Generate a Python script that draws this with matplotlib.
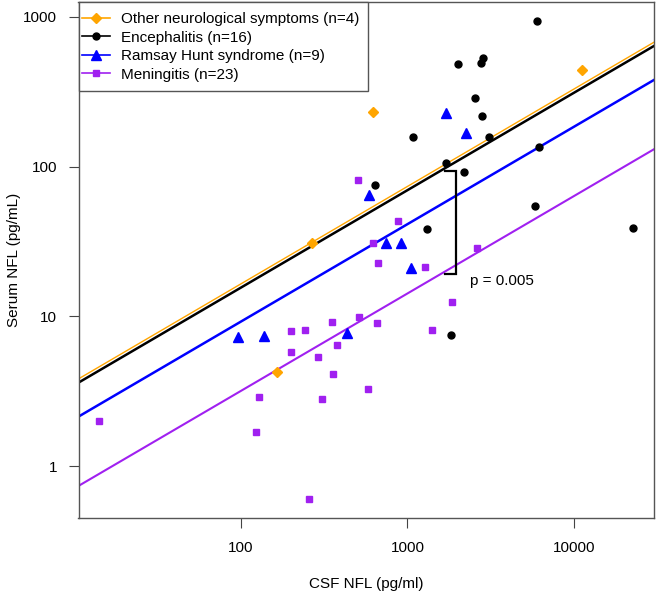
import numpy as np
import matplotlib
matplotlib.use("Agg")
import matplotlib.pyplot as plt
from matplotlib.patches import Rectangle

plt.rcParams['font.family'] = ['Liberation Sans', 'DejaVu Sans']

# ---- data ----
other_x = [617, 11120, 269, 165]
other_y = [233, 441, 30.8, 4.27]

enc_x = [1072, 1714, 640, 5998, 2024, 2845, 2767, 2547, 2793, 3076, 6170, 2197, 1306, 1820, 5835, 22500]
enc_y = [157, 105, 76, 940, 483, 535, 491, 289, 218, 158, 135.6, 92.7, 38.2, 7.55, 54.3, 38.7]

rhs_x = [589, 1714, 2240, 741, 912, 1047, 137, 436, 96]
rhs_y = [64.7, 230, 167, 31, 31, 20.9, 7.36, 7.7, 7.24]

men_x = [508, 883, 620, 661, 1276, 1862, 511, 652, 1400, 200, 243, 350, 377, 200, 291, 355,
         578, 129, 306, 124, 256, 14.1, 2620]
men_y = [81, 43.4, 30.8, 22.8, 21.5, 12.5, 9.95, 9.0, 8.1, 8.04, 8.15, 9.14, 6.41, 5.8, 5.33, 4.10,
         3.29, 2.91, 2.81, 1.70, 0.60, 2.0, 28.5]

labels = ["Other neurological symptoms (n=4)", "Encephalitis (n=16)",
          "Ramsay Hunt syndrome (n=9)", "Meningitis (n=23)"]

# common-slope regression lines on log10 scale: log10(y) = a + b*log10(x)
common_slope = 0.651
intercepts = [-0.085, -0.110, -0.337, -0.800]

# bracket annotation (data units)
bracket_x_right = 1950
bracket_x_left = 1675
bracket_top = 93.6
bracket_bottom = 19.2
p_text = "p = 0.005"
p_pos = (2366, 17.2)

xticks = [100, 1000, 10000]
yticks = [1, 10, 100, 1000]
xlim = (10 ** 1.025, 10 ** 4.48)
ylim = (10 ** -0.347, 10 ** 3.1)

colors = ["#FFA500", "#000000", "#0000FF", "#A020F0"]
markers = ["D", "o", "^", "s"]
msizes = [5.0, 5.0, 6.5, 4.5]
lws = [1.0, 1.8, 1.8, 1.5]

fig = plt.figure(figsize=(6.57, 6.0), dpi=100)
ax = fig.add_axes([78.5 / 657, 1 - 518 / 600, (654 - 78.5) / 657, (518 - 2) / 600])
ax.set_xscale('log')
ax.set_yscale('log')
ax.set_xlim(*xlim)
ax.set_ylim(*ylim)

xs_all = [other_x, enc_x, rhs_x, men_x]
ys_all = [other_y, enc_y, rhs_y, men_y]
xline = np.array(xlim)
handles = []
for i in range(4):
    yline = 10 ** (intercepts[i] + common_slope * np.log10(xline))
    ax.plot(xline, yline, color=colors[i], lw=lws[i], zorder=2)
    ax.plot(xs_all[i], ys_all[i], linestyle='none', marker=markers[i], ms=msizes[i],
            color=colors[i], mec=colors[i], zorder=3)
    h, = ax.plot([], [], color=colors[i], lw=1.2, marker=markers[i], ms=msizes[i], mec=colors[i])
    handles.append(h)

# bracket
ax.plot([bracket_x_left, bracket_x_right, bracket_x_right, bracket_x_left],
        [bracket_top, bracket_top, bracket_bottom, bracket_bottom],
        color='black', lw=1.6, zorder=4, solid_joinstyle='miter')
ax.text(p_pos[0], p_pos[1], p_text, ha='left', va='center', fontsize=11)

ax.set_xticks(xticks)
ax.set_xticklabels([str(v) for v in xticks])
ax.set_yticks(yticks)
ax.set_yticklabels([str(v) for v in yticks])
ax.minorticks_off()
ax.tick_params(axis='both', which='major', length=7.5, width=0.8, color='#444444',
               labelsize=11, direction='out')
ax.tick_params(axis='x', pad=9)
ax.tick_params(axis='y', pad=8)
for s in ax.spines.values():
    s.set_color('#555555')
    s.set_linewidth(1.0)

ax.set_xlabel("CSF NFL (pg/ml)", fontsize=11, labelpad=16)
ax.set_ylabel("Serum NFL (pg/mL)", fontsize=11, labelpad=1.5)

# legend frame (drawn as a box in axes fraction)
frame = Rectangle((0, 1 - 89 / 516), (368.3 - 78.5) / 575.5, 89 / 516,
                  transform=ax.transAxes, facecolor='white', edgecolor='#555555',
                  linewidth=1.0, zorder=5, clip_on=False)
ax.add_patch(frame)
leg = ax.legend(handles, labels, loc='upper left', bbox_to_anchor=(0.0056, 0.9806),
                borderaxespad=0, fontsize=11, frameon=False, handlelength=1.85,
                handletextpad=0.75, labelspacing=0.3, borderpad=0)
leg.set_zorder(6)

fig.savefig("out.png", dpi=100)
